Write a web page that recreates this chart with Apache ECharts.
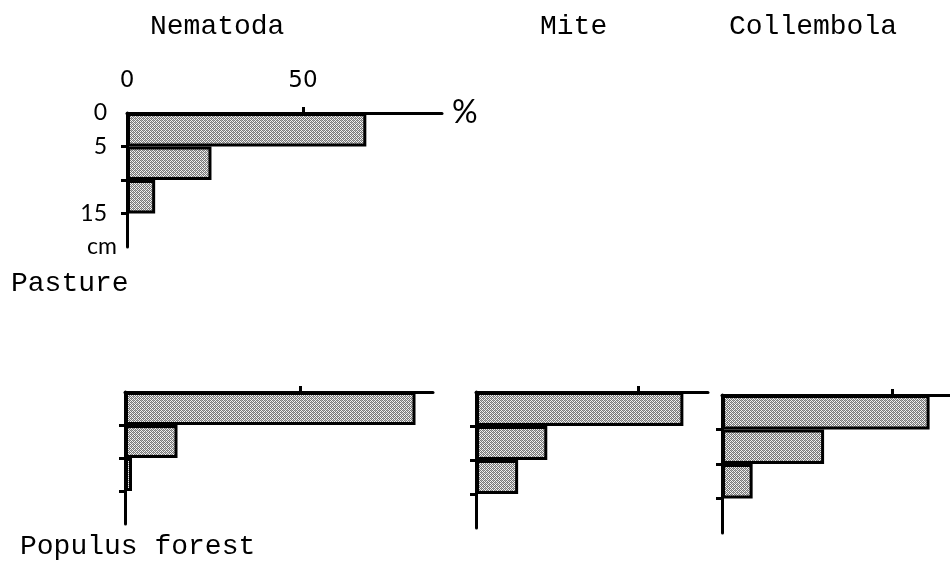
<!DOCTYPE html>
<html>
<head>
<meta charset="utf-8">
<script src="https://cdn.jsdelivr.net/npm/echarts@6/dist/echarts.min.js"></script>
<style>
html,body{margin:0;padding:0;background:#fff;}
#chart{width:950px;height:564px;}
</style>
</head>
<body>
<div id="chart"></div>
<script>
// ---- data ----
const depthCategories = ['0-5', '5-10', '10-15', '15-20'];
const pastureNematoda = [68, 24, 8];
const forestNematoda = [83, 15, 2];
const forestMite = [64, 22, 13];
const forestCollembola = [61, 30, 9];
const taxaTitles = ['Nematoda', 'Mite', 'Collembola'];
const siteTitles = ['Pasture', 'Populus forest'];
const percentTickValues = [0, 50];
const percentMarkValues = [50];
const depthLabelValues = [0, 5, 15];
const depthMarkValues = [5, 10, 15];
const depthUnit = 'cm';
const percentUnit = '%';

// ---- styling helpers ----
function makePattern() {
  const c = document.createElement('canvas');
  c.width = 4; c.height = 4;
  const ctx = c.getContext('2d');
  ctx.fillStyle = '#f2f2f2';
  ctx.fillRect(0, 0, 4, 4);
  ctx.fillStyle = '#777777';
  for (let y = 0; y < 4; y++) {
    for (let x = 0; x < 4; x++) {
      if ((x + y) % 2 === 0) ctx.fillRect(x, y, 1, 1);
    }
  }
  ctx.fillStyle = '#b0b0b0';
  ctx.fillRect(1, 0, 1, 1);
  ctx.fillRect(3, 2, 1, 1);
  return c;
}
const pattern = { image: makePattern(), repeat: 'repeat' };

const panels = [
  { data: pastureNematoda, grid: { left: 127, top: 113, width: 315, height: 134 }, max: 89.5, labels: true },
  { data: forestNematoda, grid: { left: 125, top: 392, width: 308, height: 132 }, max: 88, labels: false },
  { data: forestMite, grid: { left: 476, top: 392, width: 232, height: 136 }, max: 71.6, labels: false },
  { data: forestCollembola, grid: { left: 722, top: 395, width: 228, height: 138 }, max: 67, labels: false }
];

const labelFont = 'Lato, "DejaVu Sans", sans-serif';
const topLabelFont = '"DejaVu Sans", sans-serif';
const monoFont = '"Liberation Mono", "DejaVu Sans Mono", monospace';
const lineStyle = { color: '#000', width: 3 };

const grid = [], xAxis = [], yAxis = [], series = [];
panels.forEach((p, i) => {
  grid.push(Object.assign({ containLabel: false }, p.grid));
  xAxis.push({
    type: 'value', gridIndex: i, position: 'top', min: 0, max: p.max,
    axisLine: { show: true, onZero: false, lineStyle: lineStyle },
    axisTick: { show: true, customValues: percentMarkValues, length: 6, inside: false, lineStyle: lineStyle },
    axisLabel: p.labels ? { show: true, customValues: percentTickValues, margin: 20, color: '#000', fontSize: 23, fontFamily: topLabelFont } : { show: false },
    splitLine: { show: false },
    name: p.labels ? percentUnit : '',
    nameLocation: 'end', nameGap: 10,
    nameTextStyle: { color: '#000', fontSize: 32, fontFamily: labelFont, verticalAlign: 'middle' }
  });
  yAxis.push({
    type: 'category', gridIndex: i, data: depthCategories, inverse: true, show: false
  });
  yAxis.push({
    type: 'value', gridIndex: i, position: 'left', min: 0, max: 20, inverse: true,
    axisLine: { show: true, onZero: false, lineStyle: lineStyle },
    axisTick: { show: true, customValues: depthMarkValues, length: 6, inside: false, lineStyle: lineStyle },
    axisLabel: p.labels ? { show: true, customValues: depthLabelValues, margin: 20, color: '#000', fontSize: 23, fontFamily: labelFont } : { show: false },
    splitLine: { show: false },
    name: p.labels ? depthUnit : '',
    nameLocation: 'end', nameGap: 0,
    nameTextStyle: { color: '#000', fontSize: 23, fontFamily: labelFont, align: 'right', verticalAlign: 'middle', padding: [0, 10, 0, 0] }
  });
  series.push({
    type: 'bar', xAxisIndex: i, yAxisIndex: 2 * i, data: p.data,
    barCategoryGap: '0%', silent: true, animation: false,
    itemStyle: { color: pattern, borderColor: '#000', borderWidth: 3 }
  });
});

const titleStyle = { color: '#000', fontSize: 28, fontWeight: 'normal', fontFamily: monoFont };
const title = [
  { text: taxaTitles[0], left: 150, top: 13, textStyle: titleStyle },
  { text: taxaTitles[1], left: 540, top: 13, textStyle: titleStyle },
  { text: taxaTitles[2], left: 729, top: 13, textStyle: titleStyle },
  { text: siteTitles[0], left: 11, top: 270, textStyle: titleStyle },
  { text: siteTitles[1], left: 20, top: 533, textStyle: titleStyle }
].map(t => Object.assign({ padding: 0 }, t));

const chart = echarts.init(document.getElementById('chart'), null, { renderer: 'canvas' });
chart.setOption({
  backgroundColor: '#fff',
  animation: false,
  title: title,
  grid: grid,
  xAxis: xAxis,
  yAxis: yAxis,
  series: series
});
</script>
</body>
</html>
